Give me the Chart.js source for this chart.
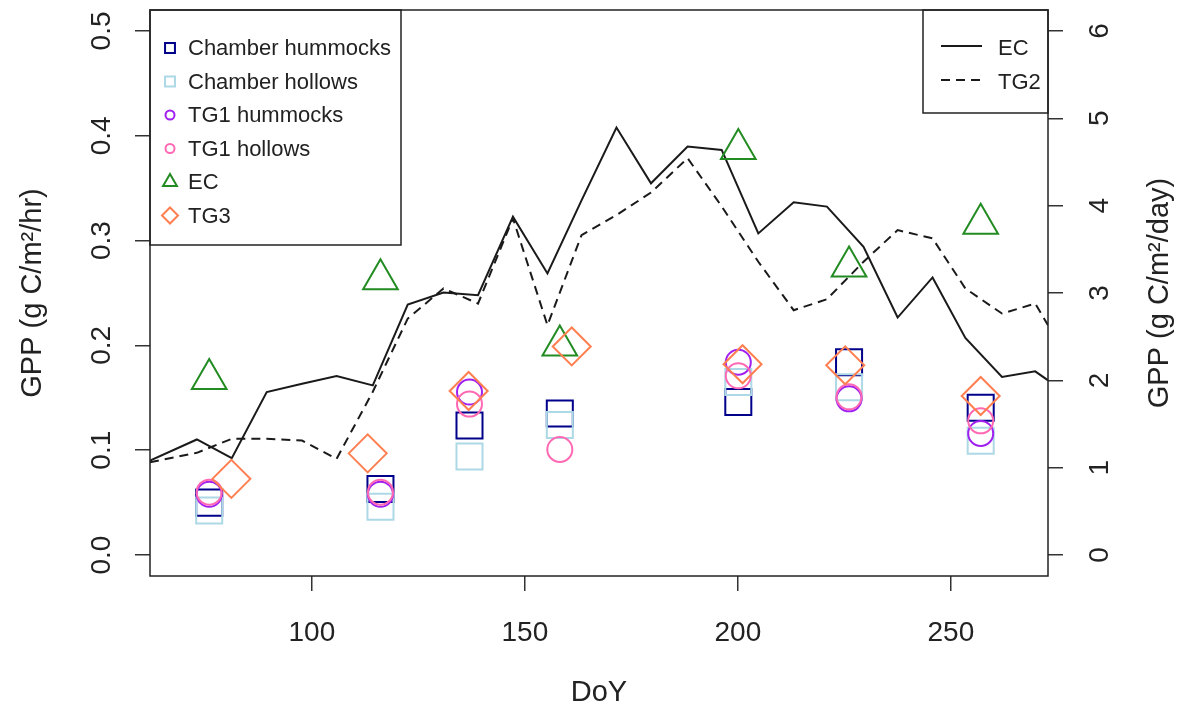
<!DOCTYPE html>
<html>
<head>
<meta charset="utf-8">
<title>GPP x DoY</title>
<script src="https://cdn.jsdelivr.net/npm/chart.js@4.4.0/dist/chart.umd.min.js"></script>
<style>
  body { margin: 0; background: #fff; }
  canvas { display: block; }
</style>
</head>
<body>
<canvas id="graf" width="1185" height="713"></canvas>
<script>
// campanhas de campo (eixo esquerdo, g C/m2/hr)
const doyPontos = [75.9, 116.1, 137.0, 158.2, 200.1, 226.1, 257.0]
const chamberHummocks = [0.050, 0.063, 0.1235, 0.135, 0.146, 0.184, 0.1405]
const chamberHollows = [0.0425, 0.046, 0.094, 0.124, 0.165, 0.160, 0.109]
const tg1Hummocks = [0.058, 0.058, 0.1555, null, 0.184, 0.149, 0.116]
const tg1Hollows = [0.060, 0.060, 0.144, 0.1007, 0.171, 0.151, 0.128]
const doyEC = [75.9, 116.1, 158.2, 200.1, 226.1, 257.0]
const ecPontos = [0.168, 0.263, 0.200, 0.3875, 0.2753, 0.316]
const doyTG3 = [81.1, 113.1, 136.8, 161.0, 201.1, 225.2, 257.0]
const tg3Pontos = [0.0727, 0.097, 0.1565, 0.199, 0.182, 0.181, 0.1517]

// series diarias (eixo direito, g C/m2/day)
const doyLinhas = [62.0, 73.0, 81.2, 89.4, 97.7, 105.8, 114.3, 122.5, 130.9, 139.0, 147.2, 155.3, 163.3, 171.5,
  179.6, 188.2, 196.2, 204.8, 213.1, 220.9, 229.5, 237.5, 245.7, 253.4, 262.0, 269.8, 272.8]
const ecDia = [1.082, 1.323, 1.109, 1.866, 1.962, 2.050, 1.942, 2.868, 3.006, 2.975, 3.874, 3.224, 4.061, 4.895,
  4.256, 4.677, 4.638, 3.682, 4.038, 3.989, 3.530, 2.719, 3.178, 2.486, 2.039, 2.103, 2.000]
const tg2Dia = [1.063, 1.170, 1.331, 1.331, 1.311, 1.101, 1.870, 2.707, 3.052, 2.879, 3.855, 2.631, 3.663, 3.892,
  4.150, 4.543, 3.992, 3.358, 2.803, 2.929, 3.358, 3.720, 3.625, 3.052, 2.765, 2.879, 2.631]

const ticksX = [100, 150, 200, 250]
const ticksEsq = [0, 0.1, 0.2, 0.3, 0.4, 0.5]
const ticksDir = [0, 1, 2, 3, 4, 5, 6]

const fonteTexto = "'Liberation Sans', Arial, sans-serif"
const corTexto = '#222'

const pares = (xs, ys) => xs.map((x, i) => ({ x: x, y: ys[i] }))

function pontos(label, xs, ys, estilo, raio, cor) {
  return {
    label: label,
    data: pares(xs, ys),
    showLine: false,
    pointStyle: estilo,
    pointRadius: raio,
    borderColor: cor,
    backgroundColor: 'rgba(0,0,0,0)',
    borderWidth: 2,
    yAxisID: 'y'
  }
}

function linha(label, ys, tracejado) {
  return {
    label: label,
    data: pares(doyLinhas, ys),
    showLine: true,
    borderColor: '#1a1a1a',
    borderWidth: 2,
    borderDash: tracejado,
    pointRadius: 0,
    tension: 0,
    yAxisID: 'y2'
  }
}

// legenda de simbolos (caixa da esquerda)
const legSimbolos = [
  { texto: 'Chamber hummocks', estilo: 'rect', raio: 7, cor: '#00008B' },
  { texto: 'Chamber hollows', estilo: 'rect', raio: 7, cor: '#ADD8E6' },
  { texto: 'TG1 hummocks', estilo: 'circle', raio: 4.5, cor: '#A020F0' },
  { texto: 'TG1 hollows', estilo: 'circle', raio: 4.5, cor: '#FF69B4' },
  { texto: 'EC', estilo: 'triangle', raio: 8, cor: '#228B22' },
  { texto: 'TG3', estilo: 'rectRot', raio: 8, cor: '#FF7F50' }
]

function desenhaSimbolo(ctx, estilo, raio, x, y) {
  if (Chart.helpers && Chart.helpers.drawPoint) {
    Chart.helpers.drawPoint(ctx, { pointStyle: estilo, radius: raio, rotation: 0, borderWidth: ctx.lineWidth }, x, y)
    return
  }
  ctx.beginPath()
  if (estilo === 'circle') ctx.arc(x, y, raio, 0, Math.PI * 2)
  else if (estilo === 'rect') ctx.rect(x - raio * 0.707, y - raio * 0.707, raio * 1.414, raio * 1.414)
  else if (estilo === 'triangle') {
    ctx.moveTo(x, y - raio); ctx.lineTo(x + raio * 0.866, y + raio / 2); ctx.lineTo(x - raio * 0.866, y + raio / 2); ctx.closePath()
  } else {
    ctx.moveTo(x - raio, y); ctx.lineTo(x, y - raio); ctx.lineTo(x + raio, y); ctx.lineTo(x, y + raio); ctx.closePath()
  }
  ctx.stroke()
}

const moldura = {
  id: 'moldura',
  afterDatasetsDraw(chart) {
    const ctx = chart.ctx
    const a = chart.chartArea
    ctx.save()
    // caixa da legenda esquerda
    ctx.fillStyle = '#fff'
    ctx.strokeStyle = '#222'
    ctx.lineWidth = 1.5
    ctx.fillRect(a.left, a.top, 251, 235)
    ctx.strokeRect(a.left, a.top, 251, 235)
    ctx.font = '22px ' + fonteTexto
    ctx.textBaseline = 'middle'
    legSimbolos.forEach((item, i) => {
      const y = a.top + 38 + i * 33.5
      ctx.strokeStyle = item.cor
      ctx.fillStyle = 'rgba(0,0,0,0)'
      ctx.lineWidth = 2
      desenhaSimbolo(ctx, item.estilo, item.raio, a.left + 20, y)
      ctx.fillStyle = corTexto
      ctx.fillText(item.texto, a.left + 38, y + 1)
    })
    // caixa da legenda direita (linhas)
    const lx = a.right - 125
    ctx.fillStyle = '#fff'
    ctx.strokeStyle = '#222'
    ctx.lineWidth = 1.5
    ctx.fillRect(lx, a.top, 125, 103)
    ctx.strokeRect(lx, a.top, 125, 103)
    ;[['EC', []], ['TG2', [9, 6]]].forEach((item, i) => {
      const y = a.top + 36 + i * 34
      ctx.strokeStyle = '#1a1a1a'
      ctx.lineWidth = 2
      ctx.setLineDash(item[1])
      ctx.beginPath()
      ctx.moveTo(lx + 18, y)
      ctx.lineTo(lx + 59, y)
      ctx.stroke()
      ctx.setLineDash([])
      ctx.fillStyle = corTexto
      ctx.fillText(item[0], lx + 75, y + 3)
    })
    ctx.restore()
  },
  afterDraw(chart) {
    const ctx = chart.ctx
    const a = chart.chartArea
    ctx.save()
    ctx.strokeStyle = '#222'
    ctx.lineWidth = 1.5
    ctx.strokeRect(a.left, a.top, a.right - a.left, a.bottom - a.top)
    // titulo do eixo direito, lido de baixo para cima como no original
    ctx.translate(1160, (a.top + a.bottom) / 2)
    ctx.rotate(-Math.PI / 2)
    ctx.font = '29px ' + fonteTexto
    ctx.fillStyle = corTexto
    ctx.textAlign = 'center'
    ctx.textBaseline = 'middle'
    ctx.fillText('GPP (g C/m\u00b2/day)', 0, 0)
    ctx.restore()
  }
}

const graf = document.getElementById('graf')
let myChart = new Chart(graf, {
  type: 'scatter',
  data: {
    datasets: [
      pontos('TG3', doyTG3, tg3Pontos, 'rectRot', 19, '#FF7F50'),
      pontos('EC', doyEC, ecPontos, 'triangle', 20, '#228B22'),
      pontos('TG1 hollows', doyPontos, tg1Hollows, 'circle', 12.5, '#FF69B4'),
      pontos('TG1 hummocks', doyPontos, tg1Hummocks, 'circle', 12.5, '#A020F0'),
      pontos('Chamber hollows', doyPontos, chamberHollows, 'rect', 18.4, '#ADD8E6'),
      pontos('Chamber hummocks', doyPontos, chamberHummocks, 'rect', 18.4, '#00008B'),
      linha('EC', ecDia, []),
      linha('TG2', tg2Dia, [9, 6])
    ]
  },
  options: {
    responsive: false,
    animation: false,
    events: [],
    layout: { autoPadding: false, padding: { top: 10, left: 0, right: 0, bottom: 0 } },
    plugins: {
      legend: { display: false },
      tooltip: { enabled: false }
    },
    scales: {
      x: {
        type: 'linear',
        min: 62,
        max: 272.8,
        afterBuildTicks: s => { s.ticks = ticksX.map(v => ({ value: v })) },
        afterFit: s => { s.height = 137; s.paddingLeft = 0; s.paddingRight = 0 },
        border: { display: false },
        grid: { drawOnChartArea: false, tickLength: 15, color: '#333', lineWidth: 1.5 },
        ticks: { font: { family: fonteTexto, size: 28 }, color: corTexto, padding: 25, maxRotation: 0 },
        title: { display: true, text: 'DoY', font: { family: fonteTexto, size: 29 }, color: corTexto, padding: { top: 0, bottom: 3 } }
      },
      y: {
        position: 'left',
        min: -0.02,
        max: 0.52,
        afterBuildTicks: s => { s.ticks = ticksEsq.map(v => ({ value: v })) },
        afterFit: s => { s.width = 150; s.paddingTop = 0; s.paddingBottom = 0 },
        border: { display: false },
        grid: { drawOnChartArea: false, tickLength: 15, color: '#333', lineWidth: 1.5 },
        ticks: {
          font: { family: fonteTexto, size: 28 }, color: corTexto, padding: 13,
          minRotation: 90, maxRotation: 90, crossAlign: 'center',
          callback: v => v.toFixed(1)
        },
        title: { display: true, text: 'GPP (g C/m\u00b2/hr)', font: { family: fonteTexto, size: 29 }, color: corTexto, padding: { top: 16, bottom: 0 } }
      },
      y2: {
        position: 'right',
        min: -0.24,
        max: 6.24,
        afterBuildTicks: s => { s.ticks = ticksDir.map(v => ({ value: v })) },
        afterFit: s => { s.width = 137; s.paddingTop = 0; s.paddingBottom = 0 },
        border: { display: false },
        grid: { drawOnChartArea: false, tickLength: 15, color: '#333', lineWidth: 1.5 },
        ticks: {
          font: { family: fonteTexto, size: 28 }, color: corTexto, padding: 29,
          minRotation: 90, maxRotation: 90, crossAlign: 'center',
          callback: v => String(v)
        }
      }
    }
  },
  plugins: [moldura]
})
</script>
</body>
</html>
